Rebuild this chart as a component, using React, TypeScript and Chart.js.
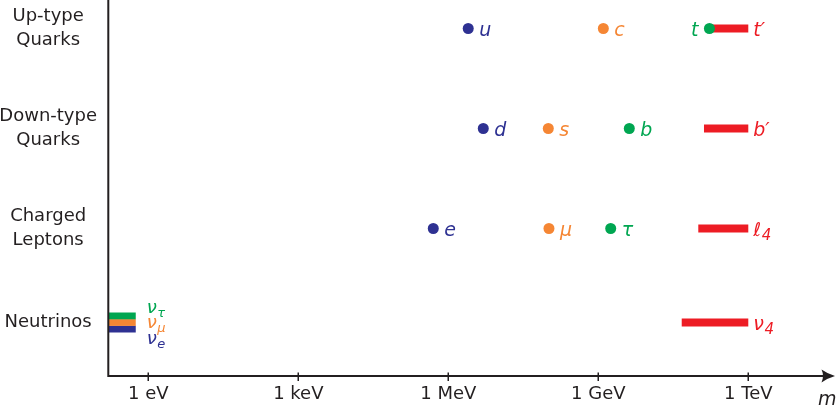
import React, { useEffect, useRef } from "react";
import { Chart, registerables } from "chart.js";

Chart.register(...registerables);

const BLUE = "#2E3192";
const ORANGE = "#F58634";
const GREEN = "#00A651";
const RED = "#ED1C24";
const INK = "#231F20";
const FONT = '"DejaVu Sans"';

// rows (y positions in axis units)
const rowLabels = [["Up-type", "Quarks"], ["Down-type", "Quarks"], ["Charged", "Leptons"], ["Neutrinos"]];
const rowValues = [3.475, 2.475, 1.475, 0.535];
const yAxisMax = 3.76;

// x axis (mass in eV, logarithmic)
const tickValues = [1, 1e3, 1e6, 1e9, 1e12];
const tickLabels = ["1 eV", "1 keV", "1 MeV", "1 GeV", "1 TeV"];
const xAxisMin = 0.156;
const xAxisMax = 5.68e13;

// generations 1-3: [up-type, down-type, charged lepton] masses in eV
const gen1Masses = [2.5e6, 5.0e6, 5.0e5];
const gen1Names = ["u", "d", "e"];
const gen2Masses = [1.26e9, 1.0e8, 1.03e8];
const gen2Names = ["c", "s", "μ"];
const gen3Masses = [1.67e11, 4.17e9, 1.77e9];
const gen3Names = ["t", "b", "τ"];

// hypothetical 4th generation: allowed mass ranges [from, to] in eV, one per row
const gen4From = [1.67e11, 1.3e11, 1.0e11, 4.66e10];
const gen4To = [1e12, 1e12, 1e12, 1e12];
const gen4Names = [["t′", ""], ["b′", ""], ["ℓ", "4"], ["ν", "4"]];

// light neutrinos: mass range (upper bound) in eV, one per flavour
const nuFrom = [xAxisMin, xAxisMin, xAxisMin];
const nuTo = [0.56, 0.56, 0.56];
const nuNames = [["ν", "τ"], ["ν", "μ"], ["ν", "e"]];
const nuStackOffsets = [0.066, 0, -0.066];

const genColors = [BLUE, ORANGE, GREEN];
const nuColors = [GREEN, ORANGE, BLUE];

function drawMath(ctx: CanvasRenderingContext2D, main: string, sub: string, x: number, y: number, size: number, color: string, align: "left" | "right", subSize = Math.round(size * 0.74), subDrop = size * 0.2) {
  ctx.font = `italic ${size}px ${FONT}`;
  const mw = ctx.measureText(main).width;
  ctx.font = `italic ${subSize}px ${FONT}`;
  const sw = sub ? ctx.measureText(sub).width : 0;
  const x0 = align === "right" ? x - mw - sw : x;
  ctx.fillStyle = color;
  ctx.textAlign = "left";
  ctx.textBaseline = "alphabetic";
  ctx.font = `italic ${size}px ${FONT}`;
  ctx.fillText(main, x0, y);
  if (sub) {
    ctx.font = `italic ${subSize}px ${FONT}`;
    ctx.fillText(sub, x0 + mw + 0.5, y + subDrop);
  }
}

const decorPlugin = {
  id: "decor",
  afterDraw(chart: any) {
    const ctx: CanvasRenderingContext2D = chart.ctx;
    const xs = chart.scales.x;
    const ys = chart.scales.y;
    const { left, bottom, top } = chart.chartArea;
    const W = chart.width;
    ctx.save();
    // axes
    ctx.strokeStyle = INK;
    ctx.fillStyle = INK;
    ctx.lineWidth = 2;
    ctx.beginPath();
    ctx.moveTo(left + 0.3, top);
    ctx.lineTo(left + 0.3, bottom + 1);
    ctx.moveTo(left - 0.7, bottom);
    ctx.lineTo(W - 8, bottom);
    ctx.stroke();
    // arrow head
    const tip = W - 1;
    ctx.beginPath();
    ctx.moveTo(tip, bottom);
    ctx.quadraticCurveTo(tip - 7, bottom - 2, tip - 13.5, bottom - 6.5);
    ctx.quadraticCurveTo(tip - 10.5, bottom, tip - 13.5, bottom + 6.5);
    ctx.quadraticCurveTo(tip - 7, bottom + 2, tip, bottom);
    ctx.closePath();
    ctx.fill();
    // ticks
    ctx.lineWidth = 1.5;
    ctx.beginPath();
    tickValues.forEach((v) => {
      const px = Math.round(xs.getPixelForValue(v)) + 0.25;
      ctx.moveTo(px, bottom - 3.5);
      ctx.lineTo(px, bottom + 5);
    });
    ctx.stroke();
    // axis title
    drawMath(ctx, "m", "", W - 18, chart.height - 1, 19, INK, "left");

    // point labels
    const gens = [
      { m: gen1Masses, n: gen1Names },
      { m: gen2Masses, n: gen2Names },
      { m: gen3Masses, n: gen3Names },
    ];
    gens.forEach((g, gi) => {
      g.m.forEach((mass, i) => {
        const px = xs.getPixelForValue(mass);
        const py = ys.getPixelForValue(rowValues[i]);
        if (gi === 2 && i === 0) {
          drawMath(ctx, g.n[i], "", px - 11, py + 7.3, 19, genColors[gi], "right");
        } else {
          drawMath(ctx, g.n[i], "", px + 11, py + 7.3, 19, genColors[gi], "left");
        }
      });
    });
    gen4To.forEach((to, i) => {
      const px = xs.getPixelForValue(to);
      const py = ys.getPixelForValue(rowValues[i]);
      drawMath(ctx, gen4Names[i][0], gen4Names[i][1], px + 5, py + 7.3, 19, RED, "left", 15, 4);
    });
    const nuBase = [-10, 5.8, 21.5];
    nuTo.forEach((to, i) => {
      const px = xs.getPixelForValue(to);
      const py = ys.getPixelForValue(rowValues[3]);
      drawMath(ctx, nuNames[i][0], nuNames[i][1], px + 11, py + nuBase[i], 18, nuColors[i], "left", 13, 4);
    });
    ctx.restore();
  },
};

export default function App() {
  const ref = useRef<HTMLCanvasElement | null>(null);
  useEffect(() => {
    if (!ref.current) return;
    const pointSets = [gen1Masses, gen2Masses, gen3Masses].map((masses, g) => ({
      data: masses.map((x, i) => ({ x, y: rowValues[i] })),
      backgroundColor: genColors[g],
      borderWidth: 0,
      pointRadius: 5.5,
      pointHoverRadius: 5.5,
      showLine: false,
    }));
    const gen4Sets = gen4From.map((from, i) => ({
      data: [
        { x: from, y: rowValues[i] },
        { x: gen4To[i], y: rowValues[i] },
      ],
      borderColor: RED,
      borderWidth: 8,
      borderCapStyle: "butt",
      pointRadius: 0,
      showLine: true,
    }));
    const nuSets = nuFrom.map((from, i) => ({
      data: [
        { x: from, y: rowValues[3] + nuStackOffsets[i] },
        { x: nuTo[i], y: rowValues[3] + nuStackOffsets[i] },
      ],
      borderColor: nuColors[i],
      borderWidth: 6.8,
      borderCapStyle: "butt",
      pointRadius: 0,
      showLine: true,
      clip: 0,
    }));
    const chart = new Chart(ref.current, {
      type: "scatter",
      data: { datasets: [...pointSets, ...gen4Sets, ...nuSets] as any },
      options: {
        animation: false,
        responsive: false,
        layout: { padding: 0, autoPadding: false },
        plugins: { legend: { display: false }, tooltip: { enabled: false } },
        events: [],
        scales: {
          x: {
            type: "logarithmic",
            min: xAxisMin,
            max: xAxisMax,
            afterBuildTicks: (s: any) => {
              s.ticks = tickValues.map((v) => ({ value: v }));
            },
            afterFit: (s: any) => {
              s.height = 30;
              s.paddingLeft = 0;
              s.paddingRight = 0;
            },
            grid: { display: false, drawTicks: false },
            border: { display: false },
            ticks: {
              autoSkip: false,
              maxRotation: 0,
              padding: 8,
              color: INK,
              font: { family: FONT, size: 18 },
              callback: (_v: any, i: number) => tickLabels[i],
            },
          },
          y: {
            type: "linear",
            min: 0,
            max: yAxisMax,
            afterBuildTicks: (s: any) => {
              s.ticks = rowValues.map((v) => ({ value: v }));
            },
            afterFit: (s: any) => {
              s.width = 108;
              s.paddingTop = 0;
              s.paddingBottom = 0;
            },
            grid: { display: false, drawTicks: false },
            border: { display: false },
            ticks: {
              autoSkip: false,
              crossAlign: "center",
              padding: 11,
              color: INK,
              font: { family: FONT, size: 18, lineHeight: 24 / 18 },
              callback: (_v: any, i: number) => rowLabels[i],
            },
          },
        },
      },
      plugins: [decorPlugin],
    } as any);
    return () => chart.destroy();
  }, []);
  return (
    <div style={{ position: "absolute", left: 0, top: 0, width: 836, height: 406, background: "#fff" }}>
      <canvas ref={ref} width={836} height={406} style={{ display: "block" }} />
    </div>
  );
}
